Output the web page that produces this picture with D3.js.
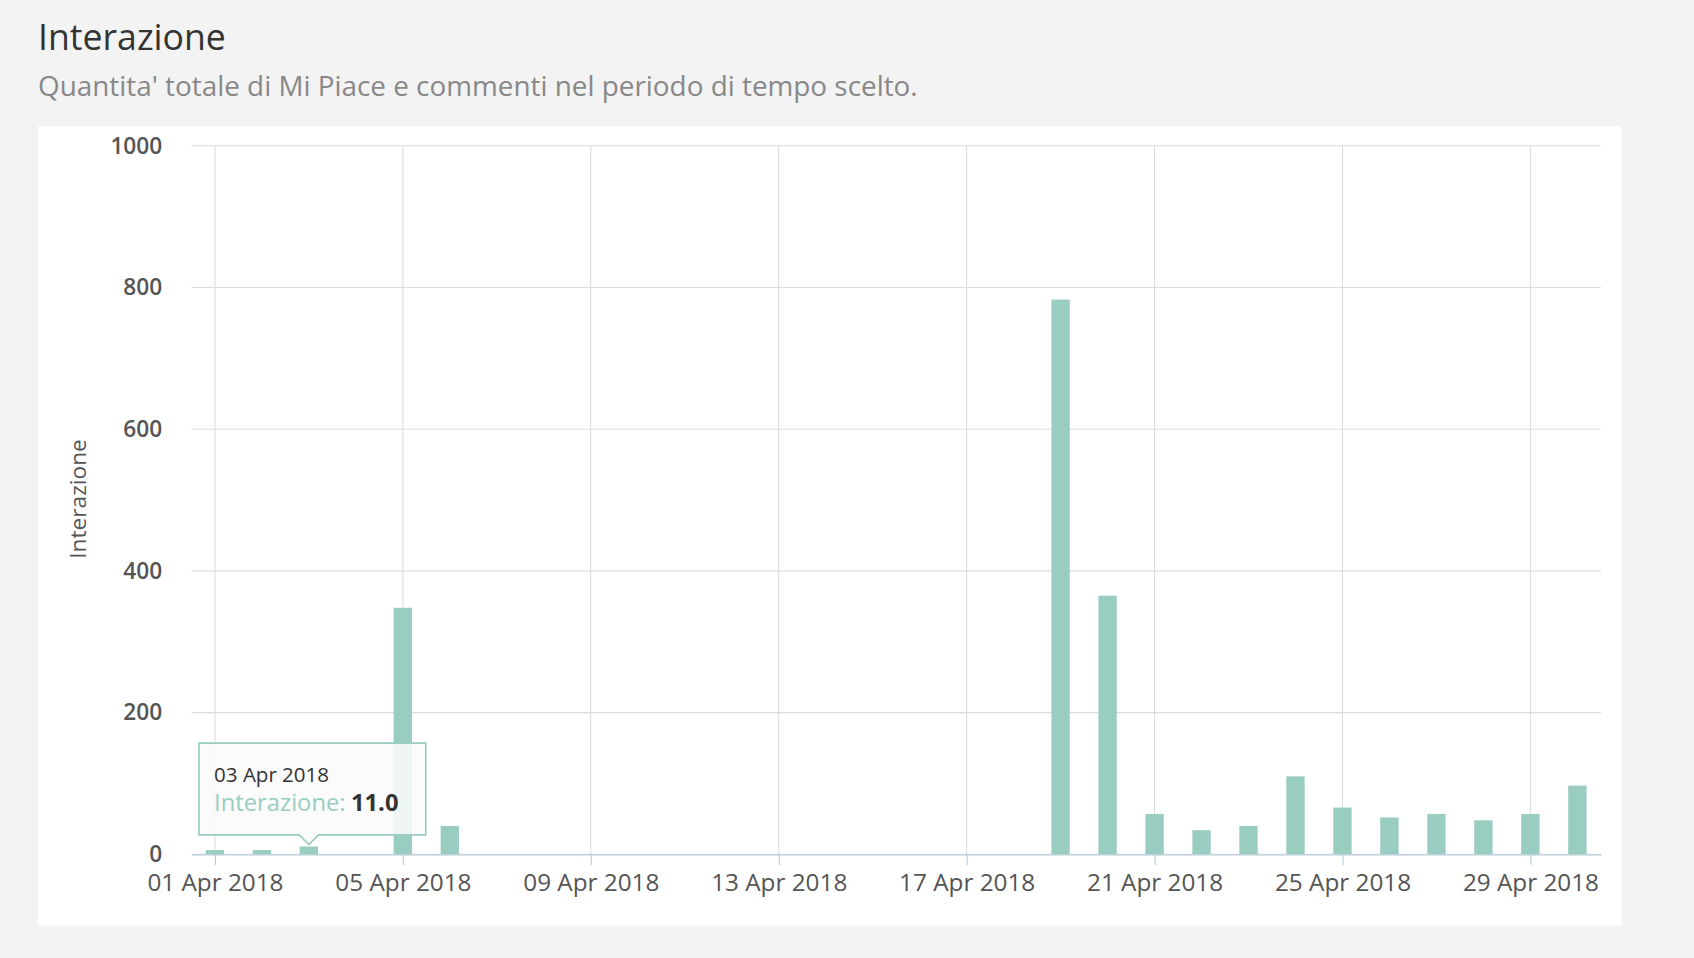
<!DOCTYPE html>
<html><head><meta charset="utf-8">
<script src="https://cdn.jsdelivr.net/npm/d3@7"></script>
<style>body{margin:0;background:#f3f3f3;font-family:"Open Sans",sans-serif;}</style>
</head><body>
<svg id="c" width="1694" height="958" viewBox="0 0 1568 887"></svg>
<script>
const days = d3.range(1,31).map(d=>new Date(2018,3,d));
const values = [6,6,11,0,348,40,0,0,0,0,0,0,0,0,0,0,0,0,783,365,57,34,40,110,66,52,57,48,57,97];
const yTicks = [0,200,400,600,800,1000];
const xTickDays = [1,5,9,13,17,21,25,29];
const fmt = d3.timeFormat("%d %b %Y");

const svg = d3.select("#c");
svg.append("rect").attr("width",1568).attr("height",887).attr("fill","#f3f3f3");
svg.append("text").attr("x",35).attr("y",46).attr("font-size",33).attr("fill","#333").text("Interazione");
svg.append("text").attr("x",35).attr("y",89).attr("font-size",25.8).attr("fill","#888").text("Quantita' totale di Mi Piace e commenti nel periodo di tempo scelto.");
svg.append("rect").attr("x",35).attr("y",117).attr("width",1466).attr("height",740).attr("fill","#fff");

const L=177,R=1482,T=135,B=791;
const x = d3.scaleTime().domain([new Date(2018,2,31,12),new Date(2018,3,30,12)]).range([L,R]);
const y = d3.scaleLinear().domain([0,1000]).range([B,T]);

const g = svg.append("g");
g.selectAll(".hg").data(yTicks).join("line").attr("x1",L).attr("x2",R)
 .attr("y1",d=>y(d)).attr("y2",d=>y(d)).attr("stroke","#dcdcdc");
g.selectAll(".vg").data(xTickDays).join("line")
 .attr("x1",d=>x(new Date(2018,3,d))).attr("x2",d=>x(new Date(2018,3,d)))
 .attr("y1",T).attr("y2",B).attr("stroke","#dcdcdc");

const bw=17;
g.selectAll(".bar").data(values).join("rect")
 .attr("x",(v,i)=>x(days[i])-bw/2).attr("width",bw)
 .attr("y",v=>y(v)).attr("height",v=>B-y(v)).attr("fill","#99cdc2");

const xa = svg.append("g").attr("transform",`translate(0,${B})`)
 .call(d3.axisBottom(x).tickValues(xTickDays.map(d=>new Date(2018,3,d))).tickFormat(fmt).tickSize(10).tickSizeOuter(0));
xa.select(".domain").attr("stroke","#b8ccd8");
xa.selectAll(".tick line").attr("stroke","#b8ccd8");
xa.selectAll("text").attr("font-size",22.5).attr("fill","#555").attr("font-family","Open Sans").attr("dy","0.95em");

const ya = svg.append("g").attr("transform",`translate(${L},0)`)
 .call(d3.axisLeft(y).tickValues(yTicks).tickFormat(d3.format("d")).tickSize(0).tickPadding(27));
ya.select(".domain").remove();
ya.selectAll("text").attr("font-size",21).attr("font-weight",600).attr("fill","#555").attr("font-family","Open Sans");
svg.append("text").attr("transform","translate(79,462) rotate(-90)").attr("text-anchor","middle")
 .attr("font-size",21).attr("fill","#555").text("Interazione");

// tooltip
const tx=x(days[2]);
const tt=svg.append("g");
tt.append("path").attr("d",`M184,688 H394 V773 H${tx+9} L${tx},782 L${tx-9},773 H184 Z`)
 .attr("fill","rgba(250,250,250,0.88)").attr("stroke","#99cdc2").attr("stroke-width",1.5);
tt.append("text").attr("x",198).attr("y",724).attr("font-size",19).attr("fill","#333").text(fmt(days[2]));
const t2=tt.append("text").attr("x",198).attr("y",751).attr("font-size",22);
t2.append("tspan").attr("fill","#99cdc2").text("Interazione:");
t2.append("tspan").attr("fill","#333").attr("font-weight","bold").attr("dx",5).text(values[2].toFixed(1));
</script>
</body></html>
